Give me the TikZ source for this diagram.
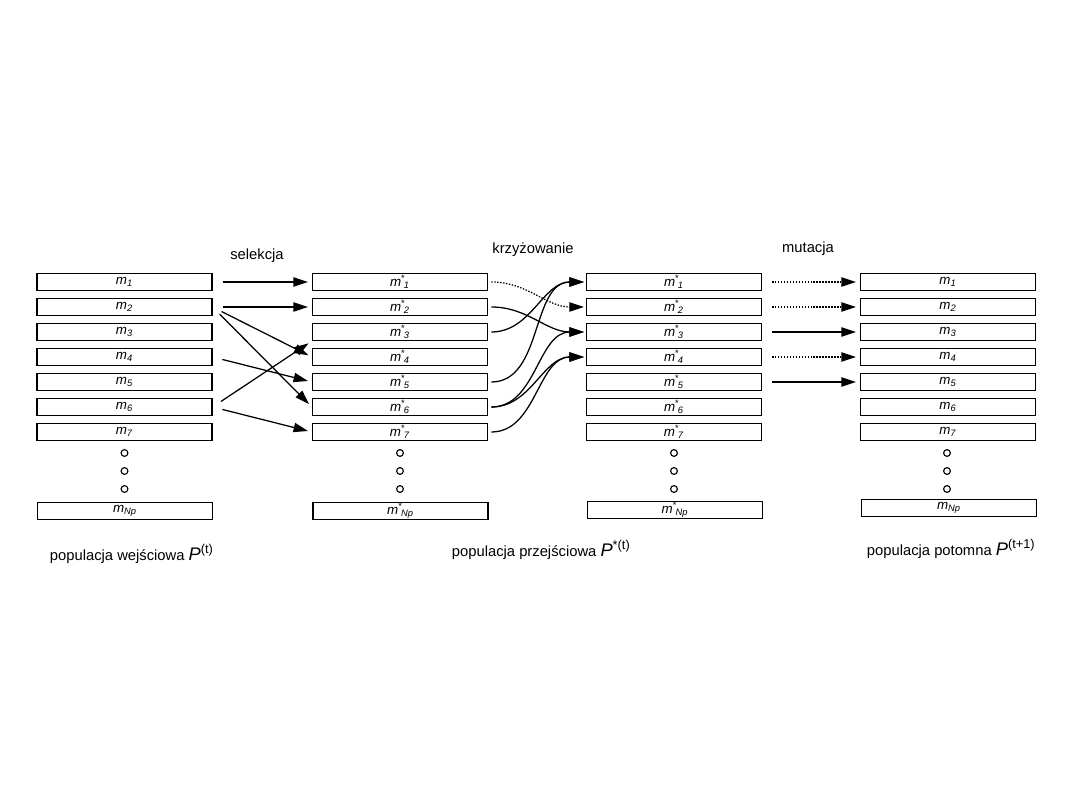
\documentclass[tikz,border=0pt]{standalone}
\usepackage{fontspec}
\setmainfont{Liberation Sans}
\usetikzlibrary{arrows.meta, positioning}

% 個体ラベル
\newcommand{\mi}[1]{\textit{m}\textsubscript{\textit{#1}}}
\newcommand{\ms}[1]{\textit{m}\textsuperscript{*}\kern-0.12em\textsubscript{\textit{#1}}}
\newcommand{\popP}[1]{{\fontsize{13}{13}\selectfont\textit{P}\textsuperscript{#1}}}

\begin{document}
\begin{tikzpicture}[x=0.025cm, y=-0.025cm,
            chrom/.style={draw, line width=1pt, minimum width=4.37cm, minimum height=0.42cm, inner sep=0pt, font=\fontsize{9.5}{10}\selectfont},
            link/.style={-{Triangle[length=3.6mm, width=2.3mm]}, line width=0.9pt, shorten <=0.25cm, shorten >=0.1cm},
            copy/.style={link, dash pattern=on 1pt off 1.1pt},
            cross/.style={link, shorten <=0.08cm, shorten >=0.05cm},
            lbl/.style={font=\fontsize{10.5}{12}\selectfont}
        ]
            \useasboundingbox (0,0) rectangle (1080,810);

            % --- 個体 ---
            \foreach \i in {1,...,7} {
                \node[chrom] (in\i) at (124.5,{282+25*(\i-1)}) {\mi{\i}};
                \node[chrom] (tmp\i) at (400,{282+25*(\i-1)}) {\ms{\i}};
                \node[chrom] (cr\i) at (674,{282+25*(\i-1)}) {\ms{\i}};
                \node[chrom] (out\i) at (948,{282+25*(\i-1)}) {\mi{\i}};
            }
            \node[chrom] (inNp) at (125,511) {\mi{Np}};
            \node[chrom] (tmpNp) at (400.5,511) {\ms{Np}};
            \node[chrom] (crNp) at (675,510) {\ms{Np}};
            \node[chrom] (outNp) at (949,508) {\mi{Np}};

            % 省略の丸
            \foreach \x in {124.5, 400, 674, 947}
                \foreach \d in {0,1,2}
                    \draw[line width=0.8pt] (\x,{453+18*\d}) circle (0.085cm);

            % --- selekcja ---
            \node[lbl] (selLbl) at (257,256) {selekcja};
            \draw[link] (in1.east) -- (tmp1.west);
            \draw[link] (in2.east) -- (tmp2.west);
            \draw[link] (in2.east) -- (tmp4.west);
            \draw[link] (in2.east) -- (tmp6.west);
            \draw[link] (in4.east) -- (tmp5.west);
            \draw[link] (in6.east) -- (tmp3.south west);
            \draw[link] (in6.east) -- (tmp7.west);

            % --- krzyżowanie ---
            \node[lbl] (crLbl) at (533,250) {krzyżowanie};
            \draw[cross, dash pattern=on 1pt off 1.1pt] (tmp1.east) to[out=0, in=180] (cr2.west);
            \draw[cross] (tmp2.east) to[out=0, in=180] (cr3.west);
            \draw[cross] (tmp3.east) to[out=0, in=180] (cr1.west);
            \draw[cross] (tmp5.east) to[out=0, in=180] (cr1.west);
            \draw[cross] (tmp6.east) to[out=0, in=180] (cr3.west);
            \draw[cross] (tmp6.east) to[out=0, in=180] (cr4.west);
            \draw[cross] (tmp7.east) to[out=0, in=180] (cr4.west);

            % --- mutacja ---
            \node[lbl] (mutLbl) at (808,249) {mutacja};
            \draw[copy] (cr1.east) -- (out1.west);
            \draw[copy] (cr2.east) -- (out2.west);
            \draw[link] (cr3.east) -- (out3.west);
            \draw[copy] (cr4.east) -- (out4.west);
            \draw[link] (cr5.east) -- (out5.west);

            % --- populacje ---
            \node[lbl, anchor=base west] (inPop) at (45,560) {populacja wejściowa \popP{(t)}};
            \node[lbl, anchor=base west] (tmpPop) at (447,556) {populacja przejściowa \popP{*(t)}};
            \node[lbl, anchor=base west] (outPop) at (862,555) {populacja potomna \popP{(t+1)}};
        \end{tikzpicture}
\end{document}
